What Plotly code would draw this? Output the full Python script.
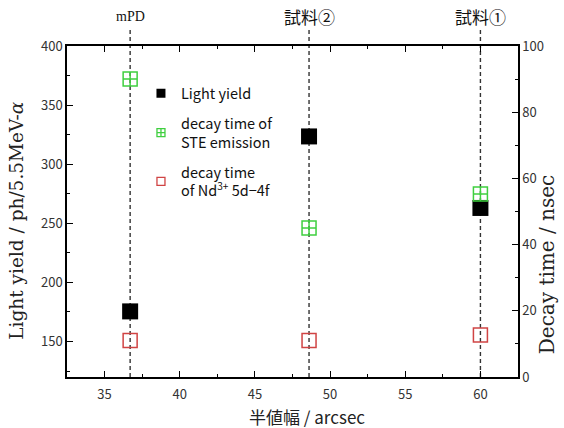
import plotly.graph_objects as go

# Data
samples = ["mPD", "試料②", "試料①"]
fwhm = [36.7, 48.6, 60.0]
light_yield = [175.5, 323.5, 263.0]
decay_ste = [90.0, 45.0, 55.3]
decay_nd = [11.0, 11.0, 12.7]

names = ["Light yield", "decay time of<br>STE emission", "decay time<br>of Nd<sup>3+</sup> 5d−4f"]

green = "#3fcf3f"
red = "#d04444"

fig = go.Figure()

# data traces (no legend)
fig.add_trace(go.Scatter(
    x=fwhm, y=light_yield, mode="markers", showlegend=False,
    marker=dict(symbol="square", size=16, color="black"), yaxis="y"))
fig.add_trace(go.Scatter(
    x=fwhm, y=decay_ste, mode="markers", showlegend=False,
    marker=dict(symbol="square-cross-open", size=14, color=green, line=dict(width=1.5, color=green)),
    yaxis="y2"))
fig.add_trace(go.Scatter(
    x=fwhm, y=decay_nd, mode="markers", showlegend=False,
    marker=dict(symbol="square-open", size=14, color=red, line=dict(width=1.5, color=red)),
    yaxis="y2"))

# legend-only entries with small icons
fig.add_trace(go.Scatter(x=[None], y=[None], mode="markers", name=names[0], legendgroup="g1",
                         marker=dict(symbol="square", size=9, color="black")))
fig.add_trace(go.Scatter(x=[None], y=[None], mode="markers", name=names[1], legendgroup="g2",
                         marker=dict(symbol="square-cross-open", size=8, color=green,
                                     line=dict(width=1.3, color=green))))
fig.add_trace(go.Scatter(x=[None], y=[None], mode="markers", name=names[2], legendgroup="g3",
                         marker=dict(symbol="square-open", size=8, color=red,
                                     line=dict(width=1.3, color=red))))

# dashed vertical reference lines and top labels
for xv, lab in zip(fwhm, samples):
    fig.add_shape(type="line", xref="x", yref="paper", x0=xv, x1=xv, y0=0, y1=1.048,
                  line=dict(color="#333", width=1.4, dash="4px,3px"), layer="below")
    if lab == "mPD":
        fnt = dict(family="Liberation Serif", size=14, color="#111")
    else:
        fnt = dict(family="Noto Sans CJK JP", size=17, color="#111")
    fig.add_annotation(x=xv, y=1.088, xref="x", yref="paper", text=lab, showarrow=False,
                       yanchor="middle", font=fnt)

# axis titles
fig.add_annotation(x=-0.111, y=0.475, xref="paper", yref="paper",
                   text="Light yield / ph/5.5MeV-<i>α</i>", textangle=-90, showarrow=False,
                   xanchor="center", yanchor="middle",
                   font=dict(family="DejaVu Serif", size=18.5, color="#222"))
fig.add_annotation(x=1.066, y=0.34, xref="paper", yref="paper",
                   text="Decay time / nsec", textangle=-90, showarrow=False,
                   xanchor="center", yanchor="middle",
                   font=dict(family="DejaVu Serif", size=20, color="#222"))
fig.add_annotation(x=0.532, y=-0.118, xref="paper", yref="paper",
                   text="半値幅 / arcsec", showarrow=False,
                   xanchor="center", yanchor="middle",
                   font=dict(family="Noto Sans CJK JP", size=17, color="#222"))

axis_common = dict(showline=True, linecolor="black", linewidth=1.5, ticks="inside",
                   tickcolor="black", ticklen=6, tickwidth=1.2, showgrid=False, zeroline=False,
                   automargin=False,
                   tickfont=dict(family="Noto Sans CJK JP", size=13, color="#333"))

fig.update_layout(
    width=564, height=428,
    margin=dict(l=67, r=46, t=46, b=51),
    paper_bgcolor="white", plot_bgcolor="white",
    xaxis=dict(range=[32.5, 62.5], dtick=5, tick0=35, mirror="ticks",
               minor=dict(dtick=2.5, tick0=32.5, ticks="inside", ticklen=3, tickcolor="black"),
               ticklabelstandoff=5,
               **axis_common),
    yaxis=dict(range=[120, 400], dtick=50, tick0=150,
               minor=dict(dtick=25, tick0=125, ticks="inside", ticklen=3, tickcolor="black"),
               **axis_common),
    yaxis2=dict(range=[0, 100], dtick=20, overlaying="y", side="right",
                minor=dict(dtick=10, ticks="inside", ticklen=3, tickcolor="black"),
                **axis_common),
    legend=dict(x=0.164, y=0.905, xanchor="left", yanchor="top", bgcolor="rgba(0,0,0,0)",
                font=dict(family="Noto Sans CJK JP", size=14.5, color="#111"),
                tracegroupgap=8),
    showlegend=True,
)

fig.write_html("out.html")
